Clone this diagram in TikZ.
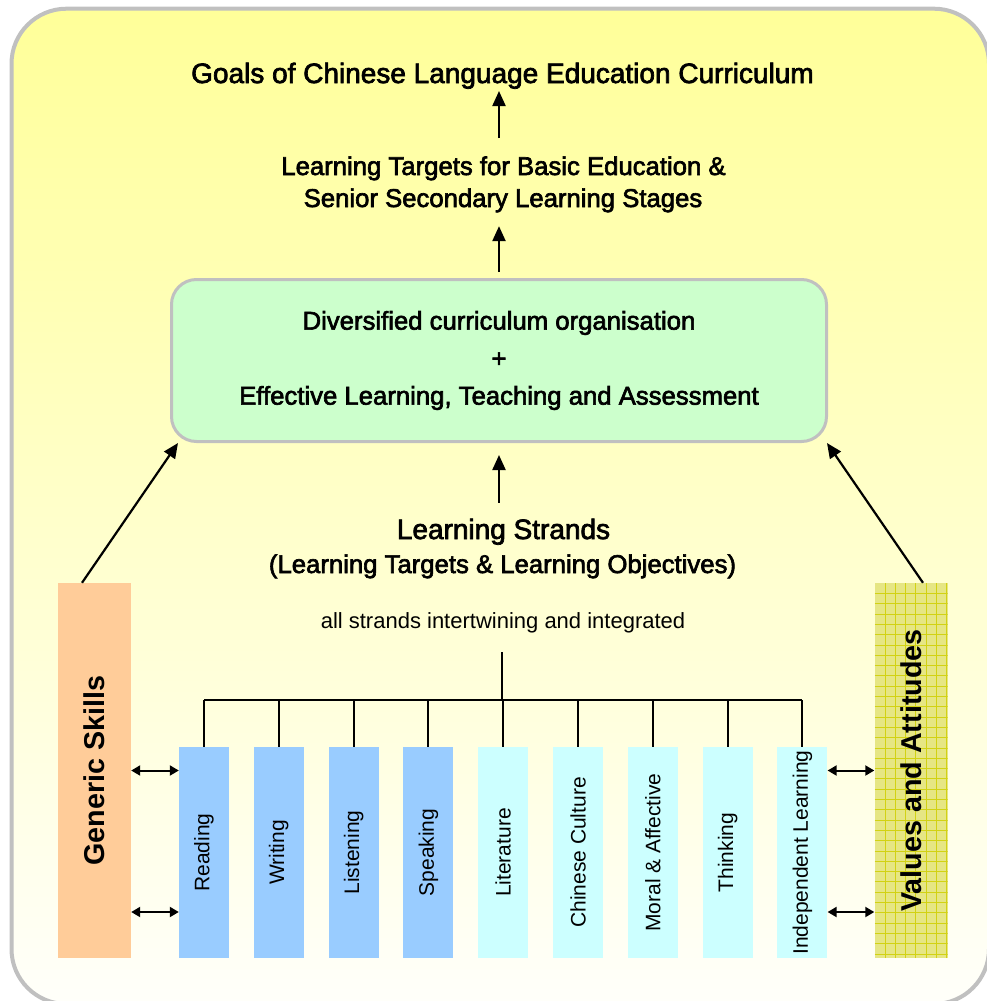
\documentclass[tikz,border=0pt]{standalone}
\usepackage{fontspec}
\usepackage{graphicx}
\setmainfont{Liberation Sans}
\newfontfamily\hb[FakeBold=2.5]{Liberation Sans}
\usetikzlibrary{arrows.meta,calc}
\definecolor{bordergray}{RGB}{192,192,192}
\definecolor{topyellow}{RGB}{255,255,153}
\definecolor{botyellow}{RGB}{255,255,250}
\definecolor{greenfill}{RGB}{204,255,204}
\definecolor{peach}{RGB}{255,204,153}
\definecolor{blueone}{RGB}{153,204,255}
\definecolor{cyanone}{RGB}{204,255,255}
\definecolor{oliveone}{RGB}{230,230,132}
\definecolor{olivegrid}{RGB}{210,210,20}
\begin{document}
\begin{tikzpicture}[x=1pt,y=-1pt,
  headtext/.style={inner sep=0pt, anchor=base, font=\hb\fontsize{25.7}{30}\selectfont},
  bigtext/.style={inner sep=0pt, anchor=base, font=\hb\fontsize{28}{32}\selectfont},
  strandbox/.style={minimum width=50pt, minimum height=211pt, inner sep=0pt, font=\fontsize{21}{25}\selectfont},
  sidebox/.style={minimum width=73pt, minimum height=375pt, inner sep=0pt, font=\bfseries\fontsize{28.7}{32}\selectfont},
  arr/.style={line width=2.2pt, -{Triangle[length=15pt,width=13pt]}},
  darr/.style={line width=2pt, {Triangle[length=9pt,width=10pt]}-{Triangle[length=9pt,width=10pt]}},
  tree/.style={line width=2pt}
]
\useasboundingbox (0,0) rectangle (987,1001);
\begin{scope}
\clip (0,0) rectangle (987,1001);
\draw[line width=4pt, draw=bordergray, top color=topyellow, bottom color=botyellow, rounded corners=55pt] (11.5,8.7) rectangle (989,1004);
\end{scope}

% texts
\node[bigtext] (title) at (502.5,83) {Goals of Chinese Language Education Curriculum};
\node[headtext] (tgt1) at (503.5,175) {Learning Targets for Basic Education \&};
\node[headtext] (tgt2) at (503,207) {Senior Secondary Learning Stages};

\node[draw=bordergray, line width=3pt, fill=greenfill, rounded corners=25pt,
      minimum width=655pt, minimum height=162pt, align=center,
      font=\hb\fontsize{25.7}{37.5}\selectfont] (green) at (499,360.5)
  {Diversified curriculum organisation\\+\\Effective Learning, Teaching and Assessment};

\node[bigtext] (str1) at (503.5,539) {Learning Strands};
\node[headtext] (str2) at (502.5,573) {(Learning Targets \& Learning Objectives)};
\node[inner sep=0pt, anchor=base, font=\fontsize{22}{26}\selectfont] (allstr) at (503,628) {all strands intertwining and integrated};

% side boxes
\node[sidebox, fill=peach] (generic) at (94.5,770.5) {\rotatebox{90}{Generic Skills}};
\node[sidebox, fill=oliveone, path picture={
    \foreach \i in {1,...,7} \draw[olivegrid, line width=0.6pt]
      ([xshift=\i*10.3pt]path picture bounding box.south west) -- ([xshift=\i*10.3pt]path picture bounding box.north west);
    \foreach \j in {1,...,36} \draw[olivegrid, line width=0.6pt]
      ([yshift=-\j*10.3pt]path picture bounding box.north west) -- ([yshift=-\j*10.3pt]path picture bounding box.north east);
  }] (values) at (911,770.5) {\rotatebox{90}{Values and Attitudes}};

% strands
\foreach \n/\t/\c [count=\i from 0] in {reading/Reading/blueone, writing/Writing/blueone, listening/Listening/blueone, speaking/Speaking/blueone, literature/Literature/cyanone, culture/Chinese Culture/cyanone, moral/Moral \& Affective/cyanone, thinking/Thinking/cyanone, independent/Independent Learning/cyanone}
  \node[strandbox, fill=\c] (\n) at (204+\i*74.8,852.5) {\rotatebox{90}{\t}};

% vertical arrows
\draw[arr, shorten <=18pt, shorten >=2pt] (tgt1.north -| green.north) -- (title.south -| green.north);
\draw[arr, shorten <=6pt, shorten >=13.6pt] (green.north) -- (tgt2.south -| green.north);
\draw[arr, shorten <=16pt, shorten >=12pt] (str1.north -| green.south) -- (green.south);

% diagonal arrows
\draw[arr] ([xshift=-12.5pt]generic.north) -- ([xshift=8pt]green.south west);
\draw[arr] ([xshift=12pt]values.north) -- ([xshift=-1pt]green.south east);

% tree
\coordinate (hub) at (502,700);
\draw[tree, shorten <=19.4pt] (allstr.south -| hub) -- (hub);
\draw[tree] (reading.north |- hub) -- (independent.north |- hub);
\foreach \n in {reading,writing,listening,speaking,literature,culture,moral,thinking,independent}
  \draw[tree] (\n.north |- hub) -- (\n.north);

% double arrows
\coordinate (g2) at ($(generic.east)+(0,141.5)$);
\coordinate (v2) at ($(values.west)+(0,141.5)$);
\draw[darr] (generic.east) -- (generic.east -| reading.west);
\draw[darr] (g2) -- (g2 -| reading.west);
\draw[darr] (independent.east |- values.west) -- (values.west);
\draw[darr] (independent.east |- v2) -- (v2);
\end{tikzpicture}
\end{document}
